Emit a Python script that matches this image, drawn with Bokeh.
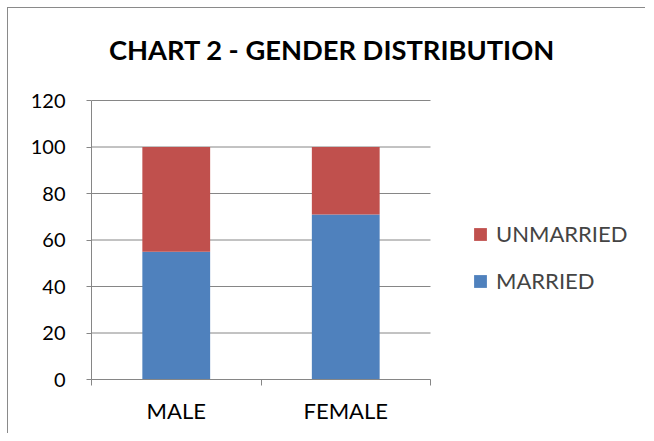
from bokeh.plotting import figure
from bokeh.models import ColumnDataSource, Legend, LegendItem, FixedTicker, Range1d, Label
from bokeh.embed import file_html
from bokeh.resources import INLINE

categories = ["MALE", "FEMALE"]
married = [55, 71]
unmarried = [45, 29]
series = ["MARRIED", "UNMARRIED"]
colors = ["#4F81BD", "#C0504D"]
y_ticks = [0, 20, 40, 60, 80, 100, 120]
title_text = "CHART 2 - GENDER DISTRIBUTION"

n = len(categories)
ymax = y_ticks[-1]
xpos = [i + 0.5 for i in range(n)]
src = ColumnDataSource(dict(x=xpos, MARRIED=married, UNMARRIED=unmarried))

FONT = "Lato"
GRID = "#868686"

# The frame spans the whole chart area (title above, legend to the right are drawn inside it);
# axes are bounded to the plot area.
PX_X = 169.5          # pixels per category
PX_Y = 279 / ymax     # pixels per unit
p = figure(width=638, height=426, output_backend="svg", toolbar_location=None,
           x_range=Range1d(0, 543 / PX_X), y_range=Range1d(0, 371 / PX_Y),
           min_border_left=83, min_border_right=12, min_border_top=0, min_border_bottom=55)
p.styles = {"border-left": "1px solid #8a8a8a", "border-top": "1px solid #8a8a8a",
            "margin-left": "7px", "margin-top": "7px"}
p.outline_line_color = None
p.background_fill_color = "white"
p.border_fill_color = "white"

# horizontal gridlines over the category span
p.segment(x0=[0] * len(y_ticks), x1=[n] * len(y_ticks), y0=y_ticks, y1=y_ticks,
          line_color=GRID, line_width=1)

r = p.vbar_stack(series, x="x", width=0.4, source=src, color=colors, line_color=None)

# axes
p.xaxis.bounds = (0, n)
p.xaxis.ticker = FixedTicker(ticks=xpos, minor_ticks=list(range(n + 1)))
p.xaxis.major_label_overrides = {x: c for x, c in zip(xpos, categories)}
p.xaxis.major_tick_out = 0
p.xaxis.major_tick_in = 0
p.xaxis.minor_tick_out = 6
p.xaxis.minor_tick_in = 0
p.xaxis.minor_tick_line_color = GRID
p.xaxis.axis_line_color = GRID
p.xaxis.major_label_standoff = 11
p.xaxis.major_label_text_font_size = "22px"
p.yaxis.bounds = (0, ymax)
p.yaxis.ticker = FixedTicker(ticks=y_ticks)
p.yaxis.major_tick_out = 5
p.yaxis.major_tick_in = 0
p.yaxis.minor_tick_line_color = None
p.yaxis.major_tick_line_color = GRID
p.yaxis.axis_line_color = GRID
p.yaxis.major_label_standoff = 21
p.yaxis.major_label_text_font_size = "20px"
for ax in (p.xaxis, p.yaxis):
    ax.major_label_text_font = FONT
    ax.major_label_text_color = "black"

p.xgrid.grid_line_color = None
p.ygrid.grid_line_color = None

title = Label(x=240.5 / PX_X, y=330 / PX_Y, text=title_text, text_align="center",
              text_baseline="alphabetic", text_font=FONT, text_font_size="27.3px",
              text_font_style="bold", text_color="black")
p.add_layout(title)

legend = Legend(items=[LegendItem(label=series[1], renderers=[r[1]]),
                       LegendItem(label=series[0], renderers=[r[0]])],
                location=(381, 85), padding=0, margin=0, spacing=20,
                glyph_width=16, glyph_height=16, label_height=16, label_standoff=8,
                label_text_font=FONT, label_text_font_size="22px",
                border_line_color=None, background_fill_alpha=0)
p.add_layout(legend, "center")

open("out.html", "w").write(file_html(p, INLINE))
